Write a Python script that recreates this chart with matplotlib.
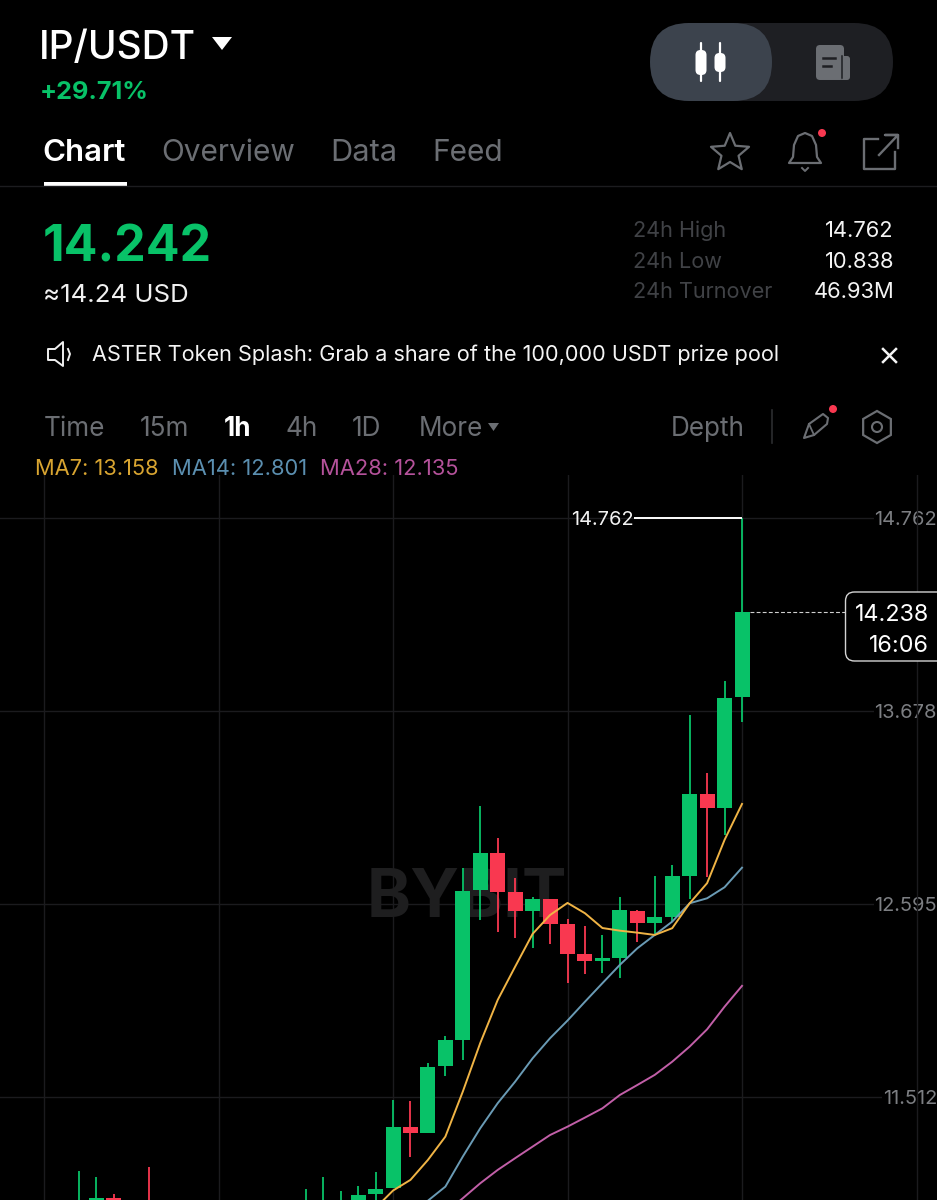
import matplotlib
matplotlib.use("Agg")
import numpy as np
import matplotlib.pyplot as plt
from matplotlib.patches import FancyBboxPatch, Polygon, Circle, RegularPolygon, Rectangle

plt.rcParams['font.family'] = ['Inter', 'DejaVu Sans']

# ---- data: candles counted back from the newest one ----
bars_back = [0,1,2,3,4,5,6,7,8,9,10,11,12,13,14,15,16,17,18,19,20,21,22,23,24,25,34,36,37,38]
opens  = [13.756,13.137,13.213,12.755,12.523,12.491,12.559,12.293,12.276,12.317,12.484,12.623,12.557,12.664,12.881,12.673,11.832,11.686,11.311,11.342,10.999,10.965,10.877,10.849,10.821,10.832,10.905,10.945,10.917,10.866]
highs  = [14.762,13.849,13.332,13.658,12.815,12.754,12.563,12.634,12.422,12.474,12.512,12.623,12.637,12.741,12.965,13.147,12.797,11.856,11.701,11.489,11.495,11.092,11.012,10.986,11.063,10.993,11.120,10.967,11.063,11.096]
lows   = [13.619,12.984,12.748,12.623,12.497,12.422,12.381,12.181,12.207,12.205,12.152,12.373,12.347,12.404,12.441,12.506,11.720,11.630,11.311,11.175,10.999,10.905,10.849,10.793,10.765,10.776,10.849,10.849,10.849,10.821]
closes = [14.238,13.754,13.137,13.213,12.754,12.522,12.491,12.561,12.291,12.276,12.317,12.484,12.623,12.557,12.664,12.881,12.671,11.832,11.682,11.311,11.342,10.993,10.961,10.905,10.877,10.888,10.877,10.917,10.945,10.905]

ma7  = [13.158,12.956,12.713,12.600,12.460,12.422,12.435,12.446,12.461,12.544,12.602,12.534,12.428,12.244,12.057,11.815,11.542,11.289,11.158,11.046,10.986,10.888]
ma14 = [12.800,12.690,12.628,12.600,12.497,12.422,12.347,12.254,12.151,12.047,11.941,11.842,11.729,11.598,11.477,11.336,11.177,11.008,10.929,10.838]
ma28 = [12.136,12.019,11.892,11.795,11.710,11.636,11.579,11.523,11.448,11.396,11.345,11.298,11.233,11.168,11.102,11.027,10.943,10.860]

price_ticks = [14.762, 13.678, 12.595, 11.512]
time_grid_back = [-10, 0, 10, 20, 30, 40]
high_price = 14.762
last_price = 14.238

GREEN = '#08c268'; RED = '#f93850'; GRID = '#1b1b1e'; MUTED = '#6b6e73'; DIM = '#404246'

fig = plt.figure(figsize=(9.3701, 12.0001), dpi=100, facecolor='black')
ax = fig.add_axes([0, 0, 1, 725/1200], facecolor='black')
ax.set_xlim(-742/17.45, 195/17.45)
ax.set_ylim(10.933, 15.006)
for s in ax.spines.values():
    s.set_visible(False)
ax.set_xticks([])
ax.yaxis.tick_right()
ax.set_yticks(price_ticks)
ax.set_yticklabels([f'{p:.3f}' for p in price_ticks])
ax.tick_params(axis='y', length=0, pad=0, labelsize=14.4, labelcolor='#7c7e82')
for lab in ax.get_yticklabels():
    lab.set_horizontalalignment('right')
    lab.set_verticalalignment('center_baseline')
    lab.set_bbox(dict(facecolor='black', edgecolor='none', pad=0.5))

ax.hlines(price_ticks, -50, 15, color=GRID, lw=1, zorder=1)
ax.vlines([-b for b in time_grid_back], 10, 16, color=GRID, lw=1, zorder=2)
ax.text(-15.76, 12.62, 'BYBIT', color='#1e1e1f', fontsize=48, fontweight='bold', ha='center', va='center', zorder=2.2)

x = -np.array(bars_back, dtype=float)
o, h, l, c = map(np.array, (opens, highs, lows, closes))
col = [GREEN if ci >= oi else RED for oi, ci in zip(o, c)]
ax.vlines(x, l, h, color=col, lw=1.3, zorder=4)
ax.bar(x, np.abs(c-o), bottom=np.minimum(o, c), width=0.86, color=col, linewidth=0, zorder=4.1)

ax.plot(-np.arange(len(ma28)), ma28, color='#c25fa8', lw=1.4, zorder=5)
ax.plot(-np.arange(len(ma14)), ma14, color='#6a9bb5', lw=1.4, zorder=5.1)
ax.plot(-np.arange(len(ma7)), ma7, color='#f0b445', lw=1.4, zorder=5.2)

ax.hlines(high_price, -6.2, 0, color='white', lw=1.4, zorder=6)
ax.text(-6.2, high_price, f'{high_price:.3f}', color='#f2f2f2', fontsize=14.4, ha='right', va='center_baseline', zorder=6)
ax.hlines(last_price, 0.45, 5.98, color='#cfcfcf', lw=0.8, linestyles=(0, (3.5, 2)), zorder=6)

# ---- app chrome, in pixel coordinates ----
ui = fig.add_axes([0, 0, 1, 1], facecolor='none')
ui.set_xlim(0, 937); ui.set_ylim(1200, 0); ui.axis('off')

def T(x, y, s, size, color='white', weight='normal', ha='left'):
    ui.text(x, y, s, fontsize=size, color=color, fontweight=weight, ha=ha, va='baseline')

T(39, 58.5, 'IP/USDT', 28, 'white', 'medium')
T(39.5, 99, '+29.71%', 18.2, GREEN, 'bold')
T(42.5, 161, 'Chart', 22.5, 'white', 'semibold')
T(161.5, 161, 'Overview', 21.5, MUTED)
T(330.5, 161, 'Data', 22.2, MUTED)
T(432.5, 161, 'Feed', 21.5, MUTED)
T(43, 261.7, '14.242', 36, GREEN, 'bold')
T(43, 301.7, '≈14.24 USD', 18.6, '#f0f0f0')
for yy, name, val in [(236.7, '24h High', '14.762'), (267.7, '24h Low', '10.838'), (298.3, '24h Turnover', '46.93M')]:
    T(633, yy, name, 15.6, DIM)
    T(894, yy, val, 15.8, '#f4f4f4', ha='right')
T(92, 361, 'ASTER Token Splash: Grab a share of the 100,000 USDT prize pool', 15.6, '#f4f4f4')
for xx, s in [(44, 'Time'), (139.5, '15m'), (285.5, '4h'), (352, '1D'), (419, 'More'), (671, 'Depth')]:
    T(xx, 435.5, s, 18.8, MUTED)
T(224, 435.5, '1h', 18.8, 'white', 'bold')
T(35, 474.5, 'MA7: 13.158', 15.75, '#d9a531')
T(172, 474.5, 'MA14: 12.801', 15.8, '#5b8fb0')
T(320, 474.5, 'MA28: 12.135', 15.8, '#b5529b')

# header pieces
ui.add_patch(Polygon([(212, 37), (232, 37), (222, 50)], closed=True, fc='white', ec='none'))
ui.add_patch(FancyBboxPatch((689, 23), 204, 78, boxstyle='round,pad=0,rounding_size=39', fc='#1e1f23', ec='none'))
ui.add_patch(FancyBboxPatch((650, 23), 122, 78, boxstyle='round,pad=0,rounding_size=39', fc='#3c434d', ec='none'))
for cx, wt, wb, bt, bb in [(701, 43, 81, 50, 75), (720, 43, 81, 53, 72)]:
    ui.plot([cx, cx], [wt, wb], color='white', lw=1.6, solid_capstyle='round')
    ui.add_patch(FancyBboxPatch((cx-5.5, bt), 11, bb-bt, boxstyle='round,pad=0,rounding_size=5', fc='white', ec='none'))
ui.add_patch(FancyBboxPatch((816, 45), 28, 35, boxstyle='round,pad=0,rounding_size=4', fc='#6b6e73', ec='none'))
ui.add_patch(FancyBboxPatch((840, 56), 10, 24, boxstyle='round,pad=0,rounding_size=3', fc='#6b6e73', ec='none'))
ui.plot([842, 842], [56, 78], color='#1e1f23', lw=1.1)
ui.plot([823, 835], [58, 58], color='#1e1f23', lw=1.8)
ui.plot([823, 831], [66, 66], color='#1e1f23', lw=1.8)

ui.plot([0, 937], [186, 186], color='#1c1c1f', lw=1)
ui.add_patch(Rectangle((44, 182), 83, 4, fc='white', ec='none'))

# star
ang = np.deg2rad(-90 + 36*np.arange(10))
rad = np.where(np.arange(10) % 2 == 0, 20, 9)
ui.add_patch(Polygon(np.c_[730 + rad*np.cos(ang), 153 + rad*np.sin(ang)], closed=True, fc='none', ec=MUTED, lw=1.6, joinstyle='round'))
# bell
bx = [789, 793, 794, 798, 805, 812, 816, 817, 821, 789]
by = [163, 157, 145, 136, 133, 136, 145, 157, 163, 163]
ui.add_patch(Polygon(np.c_[bx, by], closed=True, fc='none', ec=MUTED, lw=1.6, joinstyle='round'))
ui.plot([802, 805, 808], [168, 171, 168], color=MUTED, lw=1.4)
ui.add_patch(Circle((822, 133), 4, fc=RED, ec='none'))
# share
ui.plot([878, 864, 864, 895, 895], [139, 139, 169, 169, 152], color=MUTED, lw=1.7, solid_joinstyle='round')
ui.plot([879, 898, 885, 898, 898], [155, 135, 135, 135, 148], color=MUTED, lw=1.7, solid_joinstyle='round')

# banner icons
ui.add_patch(Polygon([(48, 349), (55, 349), (63, 342), (63, 366), (55, 360), (48, 360)], closed=True, fc='none', ec='#f0f0f0', lw=1.4, joinstyle='round'))
ui.plot([68, 70, 68], [349, 354, 360], color='#f0f0f0', lw=1.4)
ui.plot([883, 896], [349, 362], color='#f4f4f4', lw=1.8)
ui.plot([883, 896], [362, 349], color='#f4f4f4', lw=1.8)

# toolbar icons
ui.add_patch(Polygon([(488, 423), (499, 423), (493.5, 431)], closed=True, fc=MUTED, ec='none'))
ui.plot([771.5, 771.5], [410, 443], color='#2c2d30', lw=1.2)
ui.add_patch(Polygon([(804, 438), (809, 424), (823, 414), (828, 418), (827, 424), (814, 435)], closed=True, fc='none', ec=MUTED, lw=1.5, joinstyle='round'))
ui.plot([809, 814], [424, 435], color=MUTED, lw=1.3)
ui.add_patch(Circle((833, 409), 4, fc=RED, ec='none'))
ui.add_patch(RegularPolygon((877, 427), 6, radius=16, orientation=np.pi/6+np.pi/2, fc='none', ec=MUTED, lw=1.6))
ui.add_patch(Circle((877, 427), 5, fc='none', ec=MUTED, lw=1.5))

# last price box
ui.add_patch(FancyBboxPatch((845.5, 592), 120, 69, boxstyle='round,pad=0,rounding_size=9', fc='black', ec='#d4d4d4', lw=1.0))
T(929, 620.5, '14.238', 16.8, 'white', ha='right')
T(929, 651.5, '16:06', 16.8, 'white', ha='right')

fig.savefig('out.png', dpi=100, facecolor='black')
